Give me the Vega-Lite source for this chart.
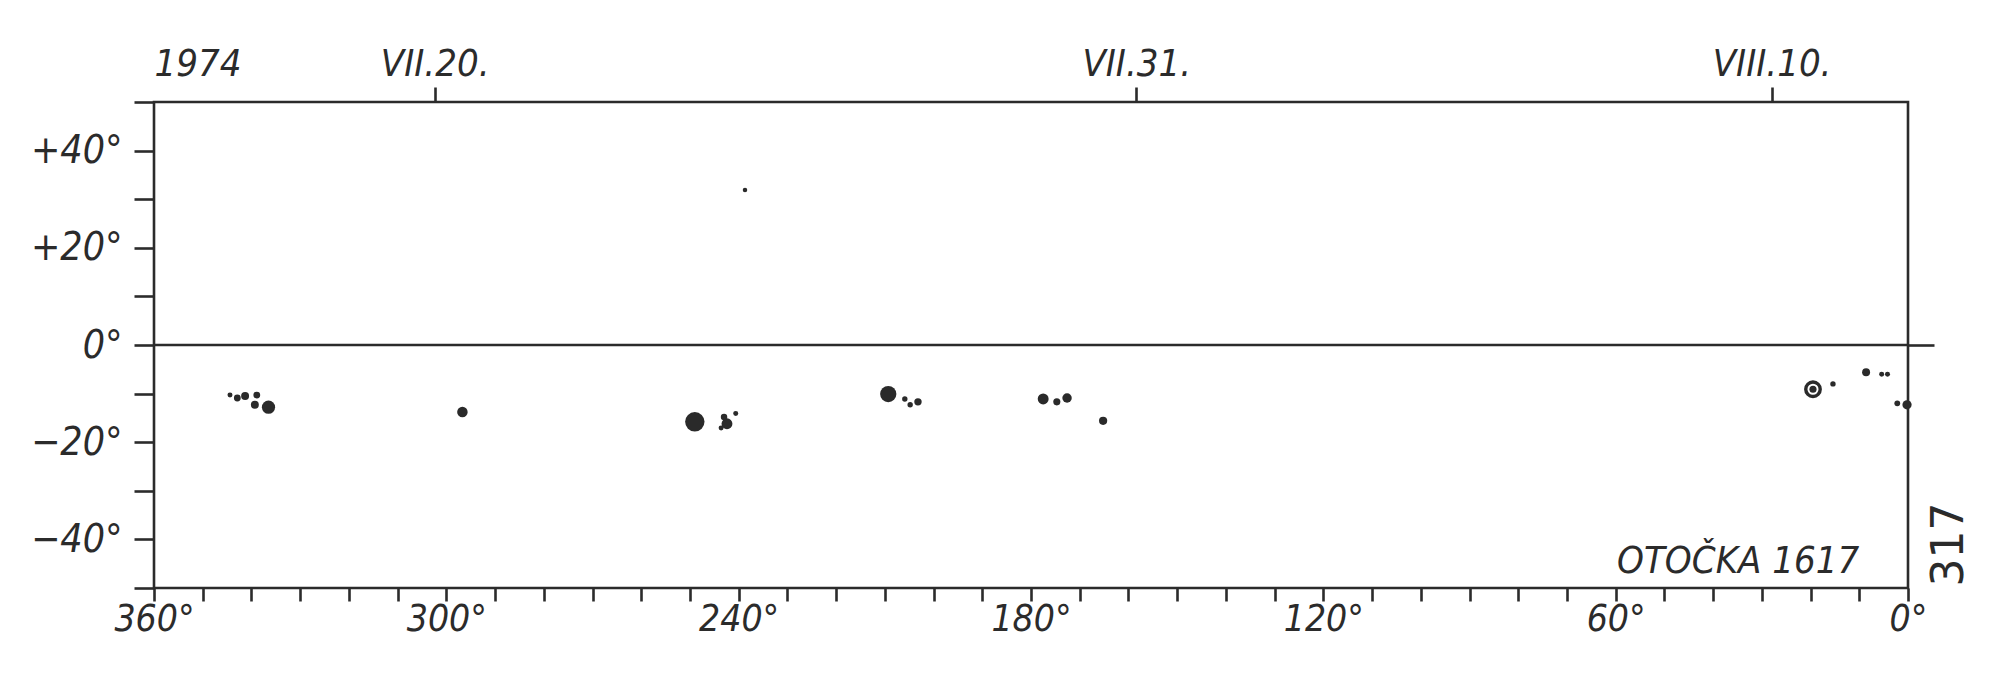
{
  "$schema": "https://vega.github.io/schema/vega-lite/v6.json",
  "width": 1754,
  "height": 486,
  "autosize": {"type": "none"},
  "padding": {"left": 154, "top": 102, "right": 92, "bottom": 89},
  "background": "#ffffff",
  "config": {
    "view": {"stroke": "#2b2b2b", "strokeWidth": 2.6},
    "axis": {
      "domain": false,
      "grid": false,
      "labelFont": "DejaVu Sans Condensed",
      "labelFontSize": 37,
      "labelFontStyle": "italic",
      "labelColor": "#2b2b2b",
      "tickColor": "#2b2b2b",
      "tickWidth": 2.6,
      "titleFont": "DejaVu Sans",
      "titleColor": "#2b2b2b"
    }
  },
  "data": {
    "values": [
      {"lon": 344.4, "lat": -10.3, "area": 3, "type": "spot"},
      {"lon": 342.9, "lat": -10.9, "area": 8, "type": "spot"},
      {"lon": 341.3, "lat": -10.5, "area": 12, "type": "spot"},
      {"lon": 338.9, "lat": -10.3, "area": 8, "type": "spot"},
      {"lon": 339.3, "lat": -12.3, "area": 12, "type": "spot"},
      {"lon": 336.5, "lat": -12.8, "area": 38, "type": "spot"},
      {"lon": 296.7, "lat": -13.8, "area": 23, "type": "spot"},
      {"lon": 249.0, "lat": -15.8, "area": 85, "type": "spot"},
      {"lon": 242.4, "lat": -16.2, "area": 25, "type": "spot"},
      {"lon": 243.0, "lat": -14.8, "area": 7, "type": "spot"},
      {"lon": 240.6, "lat": -14.1, "area": 3, "type": "spot"},
      {"lon": 243.6, "lat": -17.1, "area": 3, "type": "spot"},
      {"lon": 238.7, "lat": 31.9, "area": 2, "type": "spot"},
      {"lon": 209.3, "lat": -10.1, "area": 59, "type": "spot"},
      {"lon": 205.9, "lat": -11.1, "area": 4, "type": "spot"},
      {"lon": 204.8, "lat": -12.3, "area": 4, "type": "spot"},
      {"lon": 203.2, "lat": -11.7, "area": 10, "type": "spot"},
      {"lon": 177.5, "lat": -11.1, "area": 25, "type": "spot"},
      {"lon": 174.7, "lat": -11.7, "area": 9, "type": "spot"},
      {"lon": 172.6, "lat": -10.9, "area": 18, "type": "spot"},
      {"lon": 165.2, "lat": -15.6, "area": 13, "type": "spot"},
      {"lon": 19.5, "lat": -9.1, "area": 46, "type": "ring"},
      {"lon": 19.5, "lat": -9.1, "area": 9, "type": "spot"},
      {"lon": 15.4, "lat": -8.0, "area": 4, "type": "spot"},
      {"lon": 8.6, "lat": -5.6, "area": 12, "type": "spot"},
      {"lon": 5.4, "lat": -6.0, "area": 3, "type": "spot"},
      {"lon": 4.2, "lat": -6.0, "area": 3, "type": "spot"},
      {"lon": 2.2, "lat": -12.0, "area": 5, "type": "spot"},
      {"lon": 0.2, "lat": -12.3, "area": 17, "type": "spot"}
    ]
  },
  "layer": [
    {
      "data": {"values": [{"lat": 0}]},
      "mark": {"type": "rule", "color": "#2b2b2b", "strokeWidth": 2.6},
      "encoding": {
        "y": {
          "field": "lat", "type": "quantitative",
          "scale": {"domain": [-50, 50], "nice": false, "zero": false},
          "axis": {
            "orient": "right", "values": [0], "labels": false, "tickSize": 26,
            "title": "317", "titleAngle": 270, "titleAlign": "left", "titleBaseline": "top",
            "titleX": 19, "titleY": 484, "titleFontSize": 44, "titleFontWeight": "normal",
            "titleFont": "DejaVu Sans"
          }
        }
      }
    },
    {
      "transform": [{"filter": "datum.type == 'spot'"}],
      "mark": {"type": "point", "shape": "circle", "filled": true, "color": "#2a2a2a", "opacity": 1},
      "encoding": {
        "x": {
          "field": "lon", "type": "quantitative",
          "scale": {"domain": [0, 360], "reverse": true, "nice": false, "zero": false},
          "axis": {
            "orient": "bottom", "title": null,
            "values": [0,10,20,30,40,50,60,70,80,90,100,110,120,130,140,150,160,170,180,190,200,210,220,230,240,250,260,270,280,290,300,310,320,330,340,350,360],
            "labelExpr": "datum.value % 60 == 0 ? datum.value + '°' : ''",
            "tickSize": 13, "labelPadding": 0, "labelFlush": false, "labelOverlap": false
          }
        },
        "y": {
          "field": "lat", "type": "quantitative",
          "scale": {"domain": [-50, 50], "nice": false, "zero": false},
          "axis": {
            "orient": "left", "title": null,
            "values": [-50,-40,-30,-20,-10,0,10,20,30,40,50],
            "labelExpr": "datum.value == 0 ? '0°' : (abs(datum.value) % 20 == 0 && abs(datum.value) <= 40 ? (datum.value > 0 ? '+' + datum.value + '°' : '−' + abs(datum.value) + '°') : '')",
            "labelFontSize": 39,
            "tickSize": 20, "labelPadding": 12, "labelFlush": false, "labelOverlap": false
          }
        },
        "size": {
          "field": "area", "type": "quantitative",
          "scale": {"domain": [0, 100], "range": [12, 440], "zero": false},
          "legend": null
        }
      }
    },
    {
      "transform": [{"filter": "datum.type == 'ring'"}],
      "mark": {"type": "point", "shape": "circle", "filled": false, "color": "#2a2a2a", "strokeWidth": 3.4, "opacity": 1},
      "encoding": {
        "x": {"field": "lon", "type": "quantitative", "axis": null},
        "y": {"field": "lat", "type": "quantitative", "axis": null},
        "size": {"field": "area", "type": "quantitative", "legend": null}
      }
    },
    {
      "data": {"values": [{"lon": 10, "lat": -44.6, "label": "OTOČKA 1617"}]},
      "mark": {"type": "text", "align": "right", "baseline": "middle", "font": "DejaVu Sans Condensed", "fontStyle": "italic", "fontSize": 38, "color": "#2b2b2b"},
      "encoding": {
        "x": {
          "field": "lon", "type": "quantitative",
          "axis": {
            "orient": "top", "title": null,
            "values": [360, 302.4, 158.4, 28],
            "labelExpr": "datum.value == 360 ? '1974' : datum.value > 300 ? 'VII.20.' : datum.value > 100 ? 'VII.31.' : 'VIII.10.'",
            "labelAlign": {"condition": {"test": "datum.value == 360", "value": "left"}, "value": "center"},
            "tickOpacity": {"condition": {"test": "datum.value == 360", "value": 0}, "value": 1},
            "labelFontSize": 38,
            "tickSize": 15, "labelPadding": 4, "labelFlush": false, "labelOverlap": false
          }
        },
        "y": {"field": "lat", "type": "quantitative", "axis": null},
        "text": {"field": "label"}
      }
    }
  ],
  "resolve": {"axis": {"x": "independent", "y": "independent"}}
}
